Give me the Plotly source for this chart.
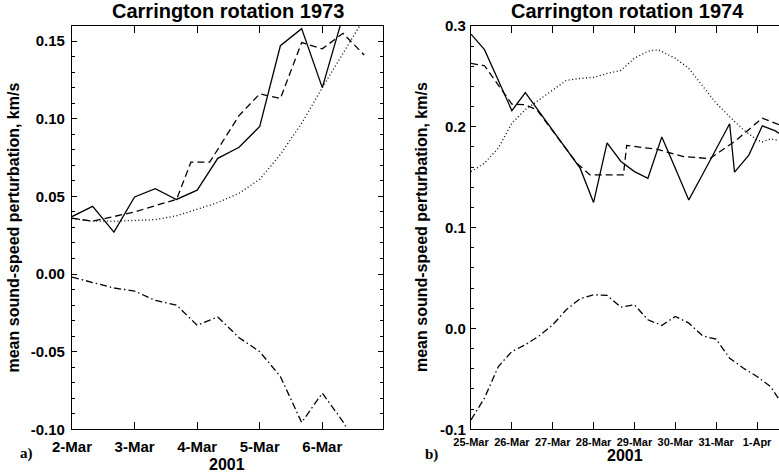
import pandas as pd
import plotly.graph_objects as go

W, H = 779, 473

# ---------------- Panel a) : Carrington rotation 1973 (days after 2001-03-02) ----------------
a_solid_t = [0, 0.33, 0.67, 1.0, 1.33, 1.67, 2.0, 2.33, 2.67, 3.0, 3.33, 3.67, 4.0, 4.33]
a_solid_v = [0.037, 0.0436, 0.027, 0.0496, 0.055, 0.048, 0.054, 0.0745, 0.0816, 0.095,
             0.147, 0.158, 0.120, 0.166]

a_dash_t = [0, 0.33, 0.67, 1.0, 1.33, 1.67, 1.9, 2.2, 2.67, 3.0, 3.33, 3.67, 4.0, 4.33, 4.67]
a_dash_v = [0.036, 0.034, 0.037, 0.040, 0.044, 0.048, 0.072, 0.072, 0.102, 0.116, 0.113,
            0.149, 0.145, 0.155, 0.141]

a_dot_t = [0, 0.33, 0.67, 1.0, 1.33, 1.67, 2.0, 2.33, 2.67, 3.0, 3.33, 3.67, 4.0, 4.33, 4.6, 4.8]
a_dot_v = [0.0357, 0.034, 0.034, 0.0345, 0.035, 0.0375, 0.042, 0.046, 0.052, 0.061, 0.077,
           0.097, 0.120, 0.142, 0.160, 0.175]

a_dd_t = [0, 0.33, 0.67, 1.0, 1.33, 1.67, 2.0, 2.33, 2.67, 3.0, 3.33, 3.67, 4.0, 4.33, 4.67]
a_dd_v = [-0.002, -0.0055, -0.009, -0.011, -0.017, -0.020, -0.033, -0.0277, -0.041, -0.050,
          -0.066, -0.0956, -0.0767, -0.095, -0.120]

a_ytick_vals = [-0.10, -0.05, 0.00, 0.05, 0.10, 0.15]
a_ytick_text = ["-0.10", "-0.05", "0.00", "0.05", "0.10", "0.15"]

# ---------------- Panel b) : Carrington rotation 1974 (days after 2001-03-25) ----------------
b_solid_t = [0, 0.33, 0.67, 1.0, 1.33, 1.67, 2.0, 2.33, 2.67, 3.0, 3.33, 3.67, 4.0, 4.33,
             4.67, 5.0, 5.33, 5.67, 6.0, 6.33, 6.45, 6.8, 7.13, 7.45, 7.6]
b_solid_v = [0.292, 0.2765, 0.246, 0.216, 0.234, 0.215, 0.197, 0.178, 0.159, 0.125, 0.184,
             0.1656, 0.1556, 0.149, 0.190, 0.159, 0.1275, 0.153, 0.178, 0.203, 0.155, 0.172,
             0.201, 0.196, 0.192]

b_dash_t = [0, 0.33, 1.0, 1.32, 1.61, 2.59, 2.91, 3.73, 3.81, 4.54, 5.2, 5.85, 6.5, 7.13, 7.6]
b_dash_v = [0.263, 0.2606, 0.2225, 0.222, 0.217, 0.164, 0.1523, 0.1523, 0.1815, 0.1778,
            0.1705, 0.1685, 0.187, 0.2086, 0.201]

b_dot_t = [0, 0.33, 0.67, 1.0, 1.33, 1.67, 2.0, 2.33, 2.67, 3.0, 3.33, 3.67, 4.0, 4.33,
           4.58, 5.0, 5.33, 5.67, 6.0, 6.33, 6.67, 7.0, 7.13, 7.33, 7.6]
b_dot_v = [0.1556, 0.164, 0.179, 0.2036, 0.217, 0.227, 0.237, 0.246, 0.248, 0.249, 0.253,
           0.256, 0.268, 0.275, 0.2765, 0.268, 0.258, 0.240, 0.2235, 0.210, 0.197, 0.187,
           0.185, 0.188, 0.186]

b_dd_t = [0, 0.33, 0.67, 1.0, 1.33, 1.67, 2.0, 2.33, 2.67, 3.0, 3.33, 3.67, 4.0, 4.33,
          4.67, 5.0, 5.33, 5.67, 6.0, 6.33, 6.67, 7.0, 7.33, 7.6]
b_dd_v = [-0.0907, -0.069, -0.0377, -0.0228, -0.0162, -0.0073, 0.0036, 0.0185, 0.0295,
          0.0334, 0.0328, 0.0212, 0.0235, 0.0086, 0.003, 0.012, 0.0053, -0.0073, -0.0106,
          -0.0295, -0.0394, -0.0477, -0.0576, -0.074]

b_ytick_vals = [-0.1, 0.0, 0.1, 0.2, 0.3]
b_ytick_text = ["-0.1", "0.0", "0.1", "0.2", "0.3"]

a_start = pd.Timestamp("2001-03-02")
b_start = pd.Timestamp("2001-03-25")


def to_dates(base, days):
    return [base + pd.to_timedelta(d, unit="D") for d in days]


def px_x(x):
    return x / W


def px_y(y):
    return 1 - y / H


FONT = "Liberation Sans"
styles = {"solid": "solid", "dash": "7px,4px", "dot": "1px,2.5px", "dashdot": "7px,3px,1.5px,3px"}

fig = go.Figure()

for (t, v, s) in [(a_solid_t, a_solid_v, "solid"), (a_dash_t, a_dash_v, "dash"),
                  (a_dot_t, a_dot_v, "dot"), (a_dd_t, a_dd_v, "dashdot")]:
    fig.add_trace(go.Scatter(x=to_dates(a_start, t), y=v, mode="lines", xaxis="x", yaxis="y",
                             line=dict(color="black", width=1.3, dash=styles[s]),
                             showlegend=False, hoverinfo="skip"))

for (t, v, s) in [(b_solid_t, b_solid_v, "solid"), (b_dash_t, b_dash_v, "dash"),
                  (b_dot_t, b_dot_v, "dot"), (b_dd_t, b_dd_v, "dashdot")]:
    fig.add_trace(go.Scatter(x=to_dates(b_start, t), y=v, mode="lines", xaxis="x2", yaxis="y2",
                             line=dict(color="black", width=1.3, dash=styles[s]),
                             showlegend=False, hoverinfo="skip"))

y_dom = [px_y(429.3), px_y(26)]
common_axis = dict(showline=True, linecolor="black", linewidth=1.2, ticks="inside",
                   tickcolor="black", tickwidth=1, showgrid=False, zeroline=False,
                   automargin=False)

fig.update_layout(
    template="none",
    width=W, height=H,
    margin=dict(l=0, r=0, t=0, b=0, pad=0, autoexpand=False),
    paper_bgcolor="white", plot_bgcolor="white",
    font=dict(family=FONT, color="black"),
    xaxis=dict(domain=[px_x(72), px_x(383.3)], anchor="y",
               range=[a_start, a_start + pd.to_timedelta(4.975, unit="D")],
               type="date", tickformat="%-d-%b", dtick=86400000, tick0=a_start,
               mirror="allticks", ticklen=7, ticklabelstandoff=4,
               tickfont=dict(family=FONT, size=15, weight="bold"),
               **common_axis),
    yaxis=dict(domain=y_dom, anchor="x", range=[-0.10, 0.1597],
               tickmode="array", tickvals=a_ytick_vals, ticktext=a_ytick_text,
               mirror="allticks", ticklen=5, ticklabelstandoff=3,
               minor=dict(dtick=0.01, tick0=0, ticks="inside", ticklen=3, tickcolor="black"),
               tickfont=dict(family=FONT, size=15, weight="bold"),
               **common_axis),
    xaxis2=dict(domain=[px_x(471), 1.0], anchor="y2",
                range=[b_start, b_start + pd.to_timedelta(7.538, unit="D")],
                type="date", tickformat="%-d-%b", dtick=86400000, tick0=b_start,
                mirror="allticks", ticklen=7, ticklabelstandoff=2,
                tickfont=dict(family=FONT, size=11, weight="bold"),
                **common_axis),
    yaxis2=dict(domain=y_dom, anchor="x2", range=[-0.1, 0.3],
                tickmode="array", tickvals=b_ytick_vals, ticktext=b_ytick_text,
                mirror=False, ticklen=5, ticklabelstandoff=1,
                minor=dict(dtick=0.02, tick0=0, ticks="inside", ticklen=3, tickcolor="black"),
                tickfont=dict(family=FONT, size=15, weight="bold"),
                **common_axis),
)

ann = []


def add_text(text, x, y, size, angle=0, family=FONT):
    ann.append(dict(text=text, x=px_x(x), y=px_y(y), xref="paper", yref="paper",
                    xanchor="center", yanchor="middle", showarrow=False, textangle=angle,
                    font=dict(family=family, size=size, color="black", weight="bold")))


add_text("Carrington rotation 1973", 228, 11, 20)
add_text("Carrington rotation 1974", 627.5, 11, 20)
add_text("mean sound-speed perturbation, km/s", 13, 227.5, 16, angle=-90)
add_text("mean sound-speed perturbation, km/s", 421.5, 227.5, 16, angle=-90)
add_text("2001", 227, 464, 16)
add_text("2001", 625, 455.5, 16)
add_text("a)", 26.5, 453, 15, family="Liberation Serif")
add_text("b)", 431, 454, 15, family="Liberation Serif")

fig.update_layout(annotations=ann)

fig.write_html("out.html")
